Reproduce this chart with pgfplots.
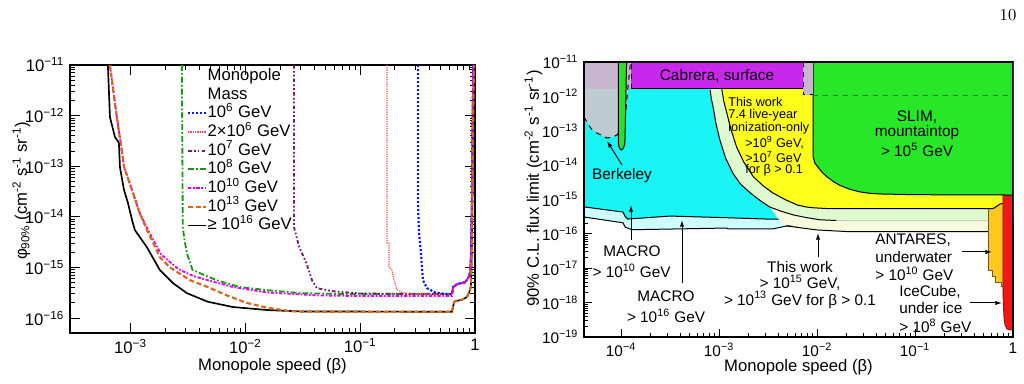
\documentclass[border=0pt]{standalone}
\usepackage{fontspec}
\usepackage{pgfplots}
\pgfplotsset{compat=1.18}
\usetikzlibrary{arrows.meta}
\newfontfamily\arial{Liberation Sans}
\newcommand{\dec}[1]{10\textsuperscript{#1}}

% curve colours (left panel)
\definecolor{cBlue}{RGB}{20,20,235}
\definecolor{cRed}{RGB}{255,70,70}
\definecolor{cPurple}{RGB}{115,25,115}
\definecolor{cGreen}{RGB}{25,150,25}
\definecolor{cMag}{RGB}{225,0,225}
\definecolor{cOrange}{RGB}{210,105,30}
% region colours (right panel)
\definecolor{rCyan}{RGB}{25,245,245}
\definecolor{rLCyan}{RGB}{205,255,255}
\definecolor{rCream}{RGB}{248,250,222}
\definecolor{rLGreen}{RGB}{224,250,208}
\definecolor{rYellow}{RGB}{255,255,30}
\definecolor{rSlim}{RGB}{40,230,40}
\definecolor{rStrip}{RGB}{40,225,40}
\definecolor{rGrey}{RGB}{190,204,210}
\definecolor{rMauve}{RGB}{200,182,208}
\definecolor{rPurple}{RGB}{200,40,235}
\definecolor{rAntares}{RGB}{255,200,30}
\definecolor{rIce}{RGB}{242,22,22}

\tikzset{
  m6/.style={color=cBlue, line width=1.3pt, dash pattern=on 1.3pt off 1.1pt},
  m2e6/.style={color=cRed, line width=0.7pt, dash pattern=on 0.7pt off 0.7pt},
  m7/.style={color=cPurple, line width=1.1pt, dash pattern=on 2.2pt off 1.3pt on 1pt off 1.3pt on 1pt off 1.3pt},
  m8/.style={color=cGreen, line width=1.1pt, dash pattern=on 3.5pt off 1.3pt on 1pt off 1.3pt},
  m10/.style={color=cMag, line width=1.1pt, dash pattern=on 2pt off 1pt on 1pt off 1pt},
  m13/.style={color=cOrange, line width=1.3pt, dash pattern=on 3pt off 1.6pt},
  m16/.style={color=black, line width=1pt},
  edge/.style={draw=black, line width=0.6pt},
  ann/.style={font=\fontsize{9.2}{11}\selectfont, inner sep=0pt},
  arr/.style={line width=0.6pt, -{Latex[length=4pt,width=2.6pt]}},
}

\begin{document}
\arial
\begin{tikzpicture}[font=\arial]
\path[use as bounding box] (0pt,0pt) rectangle (614.4pt,229.8pt);
\node[font=\rmfamily\fontsize{10}{12}\selectfont] at (604.8pt,220.6pt) {10};

%% ---------------- left: flux limit per monopole mass ----------------
\begin{axis}[
  xmode=log, ymode=log, scale only axis,
  at={(42pt,30pt)}, anchor=south west,
  width=243pt, height=160.8pt,
  xmin=2.97e-4, xmax=1, ymin=5.06e-17, ymax=1e-11,
  axis line style={line width=0.8pt},
  tick style={black, line width=0.5pt},
  tick align=inside,
  major tick length=6pt, minor tick length=3pt,
  xtick={1e-3,1e-2,1e-1,1},
  xticklabels={\dec{−3},\dec{−2},\dec{−1},1},
  ytick={1e-16,1e-15,1e-14,1e-13,1e-12,1e-11},
  yticklabels={\dec{−16},\dec{−15},\dec{−14},\dec{−13},\dec{−12},\dec{−11}},
  tick label style={font=\fontsize{10}{12}\selectfont},
  xlabel={Monopole speed (β)},
  ylabel={φ\textsubscript{90\%} (cm\textsuperscript{-2} s\textsuperscript{-1} sr\textsuperscript{-1})},
  label style={font=\fontsize{10}{12}\selectfont},
  every axis x label/.style={at={(axis description cs:0.5,-0.123)}, anchor=center},
  every axis y label/.style={at={(axis description cs:-0.12,0.53)}, anchor=center, rotate=90},
  legend cell align=left,
  legend image code/.code={\draw[#1] (0cm,0cm) -- (0.37cm,0cm);},
  legend style={at={(axis description cs:0.288,0.995)}, anchor=north west,
    draw=none, fill=none, font=\fontsize{10}{12}\selectfont,
    inner sep=0pt, row sep=0pt,
    nodes={inner sep=0.6pt, text height=7.6pt, text depth=2.4pt}},
]
\addlegendimage{legend image code/.code={}}
\addlegendentry{Monopole}
\addlegendimage{legend image code/.code={}}
\addlegendentry{Mass}
\addlegendimage{m6}   \addlegendentry{\dec{6} GeV}
\addlegendimage{m2e6} \addlegendentry{2×\dec{6} GeV}
\addlegendimage{m7}   \addlegendentry{\dec{7} GeV}
\addlegendimage{m8}   \addlegendentry{\dec{8} GeV}
\addlegendimage{m10}  \addlegendentry{\dec{10} GeV}
\addlegendimage{m13}  \addlegendentry{\dec{13} GeV}
\addlegendimage{m16}  \addlegendentry{≥ \dec{16} GeV}

% >= 1e16 GeV
\addplot[m16, forget plot] coordinates {
 (6.35e-4,1e-11) (6.62e-4,9.3e-13) (7.31e-4,3.8e-13) (7.92e-4,2.9e-13)
 (8.09e-4,9.5e-14) (8.77e-4,3.4e-14) (9.5e-4,1.87e-14) (1.03e-3,8.7e-15)
 (1.09e-3,5.5e-15) (1.39e-3,2.5e-15) (1.8e-3,8.9e-16) (2.34e-3,4.9e-16)
 (3.1e-3,3.1e-16) (4.7e-3,2.1e-16) (7.8e-3,1.65e-16) (1.55e-2,1.44e-16)
 (3.0e-2,1.35e-16) (0.63,1.33e-16) (0.655,2.0e-16) (0.67,2.15e-16)
 (0.77,2.3e-16) (0.85,2.6e-16) (0.89,3.2e-16) (0.92,4.2e-16)
 (0.935,1.5e-15) (0.95,3e-14) (0.965,1e-12) (0.98,1e-11)};
% 1e8 GeV
\addplot[m8, forget plot] coordinates {
 (2.8e-3,1e-11) (2.85e-3,6.3e-15) (2.95e-3,3.5e-15) (3.1e-3,1.9e-15)
 (3.47e-3,8.9e-16) (5.6e-3,5.6e-16) (8.9e-3,4.1e-16) (1.55e-2,3.55e-16)
 (3.0e-2,3.1e-16) (6.3e-2,3.0e-16) (0.63,3.0e-16) (0.645,4.1e-16)
 (0.70,4.7e-16) (0.82,5.1e-16) (0.87,6.2e-16) (0.91,8e-16) (0.925,2e-15)
 (0.94,2e-14) (0.955,1e-12) (0.965,1e-11)};
% 1e7 GeV
\addplot[m7, forget plot] coordinates {
 (2.65e-2,1e-11) (2.65e-2,6.3e-15) (2.95e-2,2.5e-15) (3.4e-2,1.23e-15)
 (3.8e-2,5.6e-16) (4.2e-2,3.9e-16) (5.75e-2,3.4e-16) (0.1,3.05e-16)
 (0.63,2.95e-16) (0.645,4.1e-16) (0.70,4.7e-16) (0.82,5.1e-16)
 (0.87,6.2e-16) (0.91,8e-16) (0.925,2e-15) (0.94,2e-14) (0.955,1e-12) (0.965,1e-11)};
% 2e6 GeV
\addplot[m2e6, forget plot] coordinates {
 (0.171,1e-11) (0.171,3.0e-15) (0.178,3.0e-15) (0.178,1.02e-15)
 (0.189,8.9e-16) (0.197,5.6e-16) (0.209,3.7e-16) (0.231,3.2e-16)
 (0.256,2.95e-16) (0.63,2.95e-16) (0.645,4.1e-16) (0.70,4.7e-16)
 (0.82,5.1e-16) (0.87,6.2e-16) (0.91,8e-16) (0.925,2e-15) (0.94,2e-14)
 (0.955,1e-12) (0.965,1e-11)};
% 1e6 GeV
\addplot[m6, forget plot] coordinates {
 (0.318,1e-11) (0.318,2e-14) (0.325,4.8e-15) (0.339,1.9e-15)
 (0.345,1.0e-15) (0.352,5.6e-16) (0.382,3.9e-16) (0.449,3.2e-16)
 (0.57,2.95e-16) (0.63,2.95e-16) (0.645,4.1e-16) (0.70,4.7e-16)
 (0.82,5.1e-16) (0.87,6.2e-16) (0.91,8e-16) (0.925,2e-15) (0.94,2e-14)
 (0.955,1e-12) (0.965,1e-11)};
% 1e10 GeV
\addplot[m10, forget plot] coordinates {
 (6.6e-4,1e-11) (7.6e-4,9.3e-13) (8.2e-4,2.9e-13) (8.8e-4,9.5e-14)
 (1.03e-3,3.4e-14) (1.2e-3,1.2e-14) (1.42e-3,5.5e-15) (1.85e-3,1.8e-15)
 (2.5e-3,1e-15) (2.7e-3,8.9e-16) (3.5e-3,6.8e-16) (4.7e-3,5.6e-16)
 (7.8e-3,4.1e-16) (1.55e-2,3.2e-16) (4.2e-2,2.8e-16) (0.1,2.72e-16)
 (0.63,2.72e-16) (0.645,4.0e-16) (0.70,4.6e-16) (0.82,5.0e-16)
 (0.87,6.1e-16) (0.91,8e-16) (0.925,2e-15) (0.94,2e-14) (0.955,1e-12) (0.965,1e-11)};
% 1e13 GeV
\addplot[m13, forget plot] coordinates {
 (6.6e-4,1e-11) (7.6e-4,9.3e-13) (8.2e-4,2.9e-13) (8.8e-4,9.5e-14)
 (1.03e-3,3.4e-14) (1.2e-3,1.2e-14) (1.39e-3,5.5e-15) (1.8e-3,1.6e-15)
 (2.2e-3,1e-15) (3.3e-3,5.6e-16) (4.7e-3,4.1e-16) (6.9e-3,2.8e-16)
 (1.02e-2,2.0e-16) (1.55e-2,1.6e-16) (2.5e-2,1.36e-16) (5e-2,1.33e-16)
 (0.63,1.33e-16) (0.655,2.0e-16) (0.67,2.15e-16) (0.77,2.3e-16)
 (0.85,2.6e-16) (0.89,3.2e-16) (0.92,4.2e-16) (0.935,1.5e-15)
 (0.95,3e-14) (0.965,1e-12) (0.98,1e-11)};
\end{axis}

%% ---------------- right: comparison with other searches ----------------
\begin{axis}[
  xmode=log, ymode=log, scale only axis,
  at={(350.4pt,27.6pt)}, anchor=south west,
  width=257.4pt, height=165pt,
  xmin=4.19e-5, xmax=1, ymin=1e-19, ymax=1e-11,
  axis line style={line width=0.8pt},
  tick style={black, line width=0.5pt},
  tick align=inside,
  major tick length=5pt, minor tick length=2.5pt,
  xtick={1e-4,1e-3,1e-2,1e-1,1},
  xticklabels={\dec{−4},\dec{−3},\dec{−2},\dec{−1},1},
  ytick={1e-19,1e-18,1e-17,1e-16,1e-15,1e-14,1e-13,1e-12,1e-11},
  yticklabels={\dec{−19},\dec{−18},\dec{−17},\dec{−16},\dec{−15},\dec{−14},\dec{−13},\dec{−12},\dec{−11}},
  tick label style={font=\fontsize{9.2}{11}\selectfont},
  xlabel={Monopole speed (β)},
  ylabel={90\% C.L. flux limit (cm\textsuperscript{-2} s\textsuperscript{-1} sr\textsuperscript{-1})},
  xlabel style={font=\fontsize{9.2}{11}\selectfont},
  ylabel style={font=\fontsize{8.7}{10}\selectfont},
  every axis x label/.style={at={(axis description cs:0.5,-0.109)}, anchor=center},
  every axis y label/.style={at={(axis description cs:-0.118,0.54)}, anchor=center, rotate=90},
]
% MACRO > 1e16 GeV
\addplot[fill=rLCyan, edge] coordinates {
 (4.19e-5,3.1e-16) (1.05e-4,2.1e-16) (1.1e-4,1.58e-16) (1.29e-4,1.32e-16)
 (1.2e-3,1.48e-16) (1.23e-3,1.4e-16) (3.55e-3,1.4e-16) (4.9e-3,1.7e-16)
 (1e-2,1.75e-16) (1,1.75e-16) (1,1e-11) (4.19e-5,1e-11)} -- cycle;
% MACRO > 1e10 GeV
\addplot[fill=rCyan, edge] coordinates {
 (4.19e-5,6.1e-16) (1.05e-4,4.3e-16) (1.1e-4,3.2e-16) (1.17e-4,2.7e-16)
 (3.16e-4,3.3e-16) (1.2e-3,2.95e-16) (3.1e-3,2.7e-16) (1,2.7e-16)
 (1,1e-11) (4.19e-5,1e-11)} -- cycle;
% this work, > 1e15 GeV
\addplot[fill=rCream, draw=none] coordinates {
 (8.13e-4,1e-11) (8.13e-4,1.55e-12) (8.71e-4,4.9e-13) (1.02e-3,5.4e-14)
 (1.38e-3,5.9e-15) (2.09e-3,1.55e-15) (3.31e-3,6.0e-16) (4.0e-3,2.8e-16)
 (4.6e-3,1.9e-16) (1e-2,1.3e-16) (2e-2,1.17e-16) (0.556,1.17e-16)
 (0.556,1e-11)} -- cycle;
\addplot[edge] coordinates {
 (4.9e-3,1.7e-16) (1e-2,1.3e-16) (2e-2,1.17e-16) (0.556,1.17e-16)};
% this work, intermediate band
\addplot[fill=rLGreen, draw=none] coordinates {
 (8.13e-4,1e-11) (8.13e-4,1.55e-12) (8.32e-4,8.9e-13) (8.71e-4,4.9e-13)
 (9.33e-4,1.58e-13) (1.02e-3,5.4e-14) (1.17e-3,1.58e-14) (1.38e-3,5.9e-15)
 (1.66e-3,2.8e-15) (2.09e-3,1.55e-15) (2.63e-3,9.3e-16) (3.31e-3,6.0e-16)
 (4.37e-3,4.5e-16) (5.75e-3,3.55e-16) (7.94e-3,2.95e-16) (1.07e-2,2.57e-16)
 (1.58e-2,2.45e-16) (2.51e-2,2.4e-16) (0.556,2.4e-16) (0.556,1e-11)} -- cycle;
\addplot[edge] coordinates {
 (8.13e-4,1.55e-12) (8.32e-4,8.9e-13) (8.71e-4,4.9e-13)
 (9.33e-4,1.58e-13) (1.02e-3,5.4e-14) (1.17e-3,1.58e-14) (1.38e-3,5.9e-15)
 (1.66e-3,2.8e-15) (2.09e-3,1.55e-15) (2.63e-3,9.3e-16) (3.31e-3,6.0e-16)
 (4.37e-3,4.5e-16) (5.75e-3,3.55e-16) (7.94e-3,2.95e-16) (1.07e-2,2.57e-16)
 (1.58e-2,2.45e-16)};
\addplot[black!25, line width=0.5pt] coordinates {(1.58e-2,2.45e-16) (2.51e-2,2.4e-16) (0.556,2.4e-16)};
% ANTARES
\addplot[fill=rAntares, draw=black!55!rAntares, line width=0.5pt] coordinates {
 (0.556,1e-11) (0.556,8.9e-18) (0.61,8.9e-18) (0.61,5.6e-18) (0.654,5.6e-18)
 (0.654,3.8e-18) (0.77,3.8e-18) (0.77,2.9e-18) (0.85,2.9e-18) (0.85,1e-11)} -- cycle;
% this work, 7.4 live-year ionization-only
\addplot[fill=rYellow, edge] coordinates {
 (1.05e-3,1e-11) (1.07e-3,1.55e-12) (1.12e-3,7.1e-13) (1.2e-3,3.3e-13)
 (1.32e-3,1.12e-13) (1.51e-3,3.4e-14) (1.78e-3,1.26e-14) (2.24e-3,4.6e-15)
 (2.82e-3,2.5e-15) (3.55e-3,1.55e-15) (4.7e-3,1e-15) (6.3e-3,6.9e-16)
 (7.9e-3,6.0e-16) (9.1e-3,5.75e-16) (1.35e-2,5.4e-16) (0.625,5.4e-16)
 (0.69,6.5e-16) (0.74,7.4e-16) (0.83,7.9e-16) (1,7.9e-16) (1,1e-11)} -- cycle;
% IceCube
\addplot[fill=rIce, draw=black!40!rIce, line width=0.5pt] coordinates {
 (0.79,1e-11) (0.79,2e-18) (0.80,7e-19) (0.81,3.5e-19) (0.83,2.2e-19)
 (0.87,1.7e-19) (0.93,1.6e-19) (1,1.6e-19) (1,1e-11)} -- cycle;
% SLIM
\addplot[fill=rSlim, edge] coordinates {
 (9.12e-3,1e-11) (9.12e-3,1.74e-14) (9.55e-3,1.12e-14) (1.02e-2,8.9e-15)
 (1.12e-2,6.3e-15) (1.26e-2,4.6e-15) (1.45e-2,3.4e-15) (1.7e-2,2.6e-15)
 (2.14e-2,2.0e-15) (2.75e-2,1.66e-15) (3.47e-2,1.51e-15) (4.37e-2,1.45e-15)
 (0.1,1.38e-15) (1,1.35e-15) (1,1e-11)} -- cycle;
% Berkeley
\addplot[fill=rGrey, draw=none] coordinates {
 (4.19e-5,1e-11) (4.19e-5,2.5e-13) (5.1e-5,1.05e-13) (6.2e-5,7.6e-14)
 (7.2e-5,6.2e-14) (8.1e-5,6.6e-14) (9.1e-5,7.6e-14) (1.0e-4,1.2e-13)
 (1.1e-4,2.5e-13) (1.17e-4,1.55e-12) (1.25e-4,1e-11)} -- cycle;
\addplot[fill=rMauve, draw=none] coordinates {
 (4.19e-5,1.64e-12) (1.27e-4,1.64e-12) (1.27e-4,1e-11) (4.19e-5,1e-11)} -- cycle;
\addplot[black, line width=0.6pt, dashed, smooth] coordinates {
 (4.19e-5,2.5e-13) (5.1e-5,1.05e-13) (6.2e-5,7.6e-14) (7.2e-5,6.2e-14)
 (8.1e-5,6.6e-14) (9.1e-5,7.6e-14) (1.0e-4,1.2e-13) (1.1e-4,2.5e-13)
 (1.17e-4,1.55e-12) (1.25e-4,1e-11)};
% induction strip
\addplot[fill=rStrip, edge] coordinates {
 (9.38e-5,1e-11) (9.38e-5,4.5e-14) (9.6e-5,3.2e-14) (1.0e-4,2.75e-14)
 (1.05e-4,3.0e-14) (1.09e-4,4.0e-14) (1.1e-4,6e-14) (1.12e-4,1e-12)
 (1.14e-4,1e-11)} -- cycle;
% Cabrera
\addplot[fill=rPurple, draw=none] coordinates {
 (1.27e-4,1.64e-12) (7.2e-3,1.64e-12) (7.2e-3,1e-11) (1.27e-4,1e-11)} -- cycle;
\addplot[edge] coordinates {(1.27e-4,1.64e-12) (7.2e-3,1.64e-12)};
\addplot[black, line width=0.6pt, dashed] coordinates {(1.27e-4,1.64e-12) (1.27e-4,1e-11)};
\addplot[fill=rMauve, draw=none] coordinates {
 (7.2e-3,1.1e-12) (9.12e-3,1.1e-12) (9.12e-3,1e-11) (7.2e-3,1e-11)} -- cycle;
\addplot[black, line width=0.6pt, dashed] coordinates {(7.2e-3,1e-11) (7.2e-3,1.1e-12) (9.12e-3,1.1e-12)};
\addplot[black!45!rSlim, line width=0.5pt, dashed] coordinates {(9.12e-3,1.1e-12) (1,1.1e-12)};
\draw[line width=0.8pt] (rel axis cs:0,0) rectangle (rel axis cs:1,1);
\end{axis}

% labels of the right panel
\node[ann] at (373.2pt,124.2pt) {Berkeley};
\draw[arr] (373.2pt,130.8pt) -- (364.2pt,145.2pt);
\node[ann] at (430.2pt,184.2pt) {Cabrera, surface};
\begin{scope}[every node/.style={font=\fontsize{7.6}{9}\selectfont, inner sep=0pt, anchor=west}]
\node at (436.8pt,168.6pt) {This work};
\node at (436.8pt,160.8pt) {7.4 live-year};
\node at (436.8pt,153.0pt) {ionization-only};
\node at (447pt,144pt) {>\dec{9} GeV,};
\node at (447pt,135.6pt) {>\dec{7} GeV};
\node at (447pt,127.8pt) {for β > 0.1};
\end{scope}
\node[ann] at (550.2pt,159.6pt) {SLIM,};
\node[ann] at (550.2pt,150pt) {mountaintop};
\node[ann] at (550.2pt,139.8pt) {> \dec{5} GeV};
\node[ann] at (379.2pt,79.2pt) {MACRO};
\node[ann] at (379pt,67.2pt) {> \dec{10} GeV};
\draw[arr] (378.6pt,85.8pt) -- (378.6pt,106.8pt);
\node[ann] at (399.6pt,52.2pt) {MACRO};
\node[ann] at (399.6pt,40.2pt) {> \dec{16} GeV};
\draw[arr] (409.2pt,60pt) -- (409.2pt,97.8pt);
\node[ann] at (480pt,69.6pt) {This work};
\node[ann] at (480pt,60pt) {> \dec{15} GeV,};
\node[ann] at (480pt,49.8pt) {> \dec{13} GeV for β > 0.1};
\draw[arr] (490.8pt,75.6pt) -- (490.8pt,90pt);
\node[ann, anchor=west] at (525pt,85.8pt) {ANTARES,};
\node[ann, anchor=west] at (525pt,75.6pt) {underwater};
\node[ann, anchor=west] at (525pt,65.4pt) {> \dec{10} GeV};
\draw[arr] (577.2pt,78.6pt) -- (595.2pt,78.6pt);
\node[ann, anchor=west] at (539.4pt,54.6pt) {IceCube,};
\node[ann, anchor=west] at (539.4pt,45pt) {under ice};
\node[ann, anchor=west] at (539.4pt,34.2pt) {> \dec{8} GeV};
\draw[arr] (582pt,48pt) -- (601.2pt,48pt);
\end{tikzpicture}
\end{document}
